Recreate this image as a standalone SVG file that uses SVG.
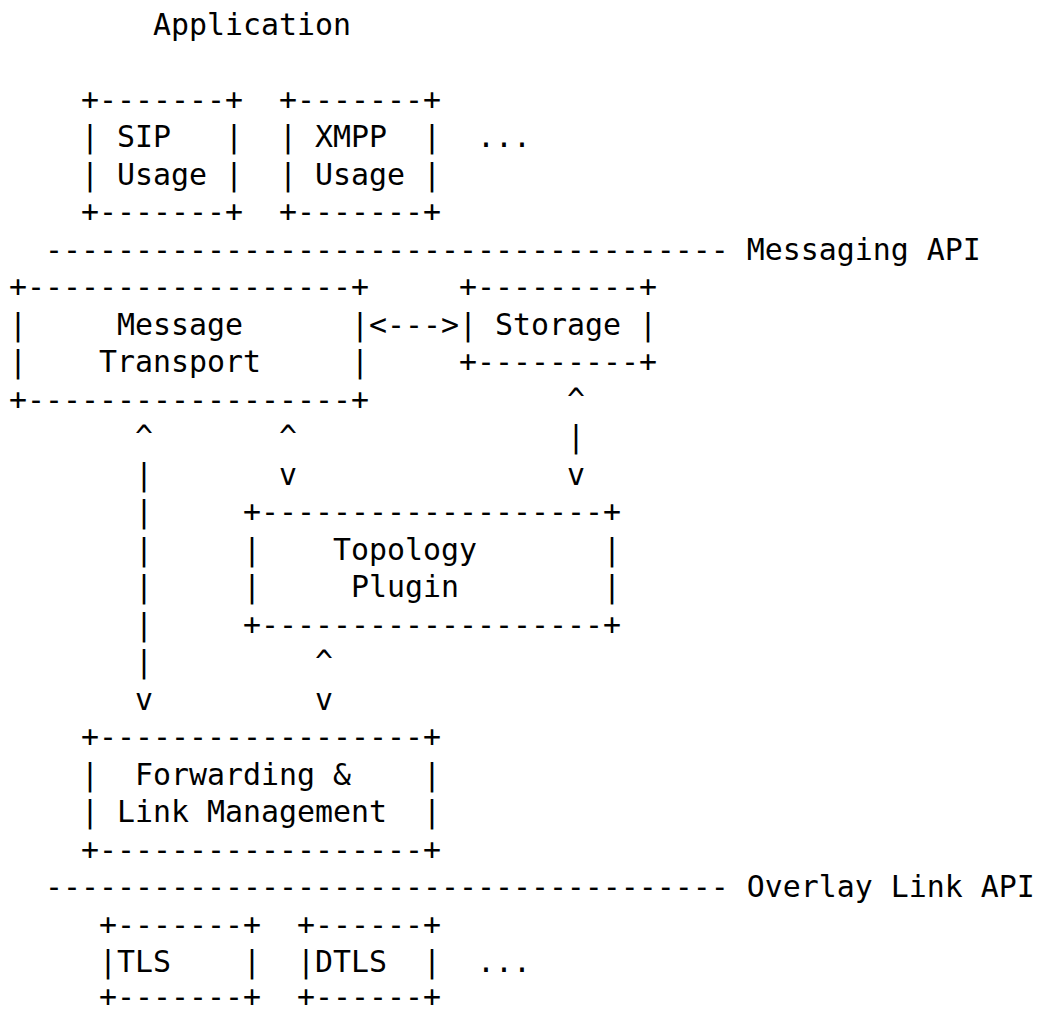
<svg xmlns="http://www.w3.org/2000/svg" width="1039" height="1014" viewBox="0 0 1039 1014" xml:space="preserve">
<style>
text{font-family:"DejaVu Sans Mono","Liberation Mono",monospace;font-size:29.9px;fill:#000;white-space:pre;}
</style>
<rect width="1039" height="1014" fill="#fff"/>
<g id="application"><text x="153" y="34.5">Application</text></g>
<g id="sip-usage">
<text x="81" y="109.5">+-------+</text>
<text x="81" y="147">| SIP   |</text>
<text x="81" y="184.5">| Usage |</text>
<text x="81" y="222">+-------+</text>
</g>
<g id="xmpp-usage">
<text x="279" y="109.5">+-------+</text>
<text x="279" y="147">| XMPP  |</text>
<text x="279" y="184.5">| Usage |</text>
<text x="279" y="222">+-------+</text>
</g>
<g id="usage-more"><text x="477" y="147">...</text></g>
<g id="messaging-api"><text x="45" y="259.5">-------------------------------------- Messaging API</text></g>
<g id="message-transport">
<text x="9" y="297">+------------------+</text>
<text x="9" y="334.5">|     Message      |</text>
<text x="9" y="372">|    Transport     |</text>
<text x="9" y="409.5">+------------------+</text>
</g>
<g id="storage">
<text x="459" y="297">+---------+</text>
<text x="459" y="334.5">| Storage |</text>
<text x="459" y="372">+---------+</text>
</g>
<g id="topology-plugin">
<text x="243" y="522">+-------------------+</text>
<text x="243" y="559.5">|    Topology       |</text>
<text x="243" y="597">|     Plugin        |</text>
<text x="243" y="634.5">+-------------------+</text>
</g>
<g id="forwarding-link-management">
<text x="81" y="747">+------------------+</text>
<text x="81" y="784.5">|  Forwarding &amp;    |</text>
<text x="81" y="822">| Link Management  |</text>
<text x="81" y="859.5">+------------------+</text>
</g>
<g id="overlay-link-api"><text x="45" y="897">-------------------------------------- Overlay Link API</text></g>
<g id="tls">
<text x="99" y="934.5">+-------+</text>
<text x="99" y="972">|TLS    |</text>
<text x="99" y="1007">+-------+</text>
</g>
<g id="dtls">
<text x="297" y="934.5">+------+</text>
<text x="297" y="972">|DTLS  |</text>
<text x="297" y="1007">+------+</text>
</g>
<g id="link-more"><text x="477" y="972">...</text></g>
<g id="connectors">
<text x="369" y="334.5">&lt;---&gt;</text>
<text x="567" y="409.5">^</text>
<text x="567" y="447">|</text>
<text x="567" y="484.5">v</text>
<text x="135" y="447">^</text>
<text x="135" y="484.5">|</text>
<text x="135" y="522">|</text>
<text x="135" y="559.5">|</text>
<text x="135" y="597">|</text>
<text x="135" y="634.5">|</text>
<text x="135" y="672">|</text>
<text x="135" y="709.5">v</text>
<text x="279" y="447">^</text>
<text x="279" y="484.5">v</text>
<text x="315" y="672">^</text>
<text x="315" y="709.5">v</text>
</g>
</svg>
